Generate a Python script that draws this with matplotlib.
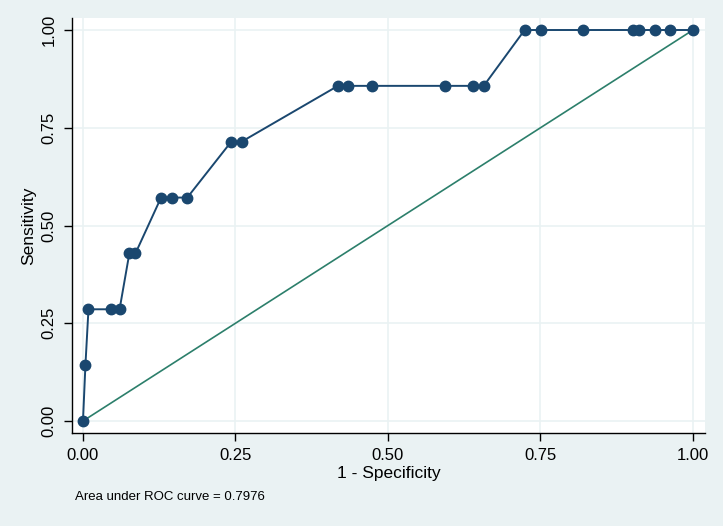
import matplotlib
matplotlib.use("Agg")
import matplotlib.pyplot as plt

# ROC points (1 - specificity, sensitivity)
fpr = [0.0, 0.004, 0.009, 0.046, 0.060, 0.076, 0.086, 0.128, 0.146, 0.171,
       0.243, 0.260, 0.418, 0.434, 0.473, 0.593, 0.640, 0.657,
       0.724, 0.751, 0.819, 0.902, 0.911, 0.937, 0.963, 1.0]
tpr = [0.0, 1/7, 2/7, 2/7, 2/7, 3/7, 3/7, 4/7, 4/7, 4/7,
       5/7, 5/7, 6/7, 6/7, 6/7, 6/7, 6/7, 6/7,
       1.0, 1.0, 1.0, 1.0, 1.0, 1.0, 1.0, 1.0]
ticks = [0.0, 0.25, 0.5, 0.75, 1.0]
tick_labels = ["0.00", "0.25", "0.50", "0.75", "1.00"]
auc_note = "Area under ROC curve = 0.7976"

BG = "#EAF2F3"
NAVY = "#1A476F"
GREEN = "#2C7F6B"

plt.rcParams["font.family"] = ["Liberation Sans", "DejaVu Sans"]

fig = plt.figure(figsize=(7.23, 5.26), dpi=100, facecolor=BG)
ax = fig.add_axes([72 / 723, 1 - 433 / 526, 633 / 723, 415 / 526])
ax.set_facecolor("white")

ax.plot([0, 1], [0, 1], color=GREEN, lw=1.2, zorder=2)
ax.plot(fpr, tpr, color=NAVY, lw=1.4, marker="o", ms=7.5, zorder=3)

ax.set_xlim(-0.018, 1.0197)
ax.set_ylim(-0.0307, 1.0307)
ax.set_xticks(ticks)
ax.set_xticklabels(tick_labels)
ax.set_yticks(ticks)
ax.set_yticklabels(tick_labels, rotation=90, va="center")

ax.grid(True, color=BG, lw=1.2)
ax.set_axisbelow(True)
for side in ["top", "right"]:
    ax.spines[side].set_visible(False)
for side in ["left", "bottom"]:
    ax.spines[side].set_color("black")
    ax.spines[side].set_linewidth(1.0)
ax.tick_params(direction="out", length=6, width=1, labelsize=12, pad=5)

ax.set_xlabel("1 - Specificity", fontsize=12.5, labelpad=2)
ax.set_ylabel("Sensitivity", fontsize=12.5, va="center")
ax.yaxis.set_label_coords(-0.068, 0.5)

fig.text(75 / 723, 1 - 497 / 526, auc_note, fontsize=9.5, va="center", ha="left")

fig.savefig("out.png", dpi=100, facecolor=BG)
